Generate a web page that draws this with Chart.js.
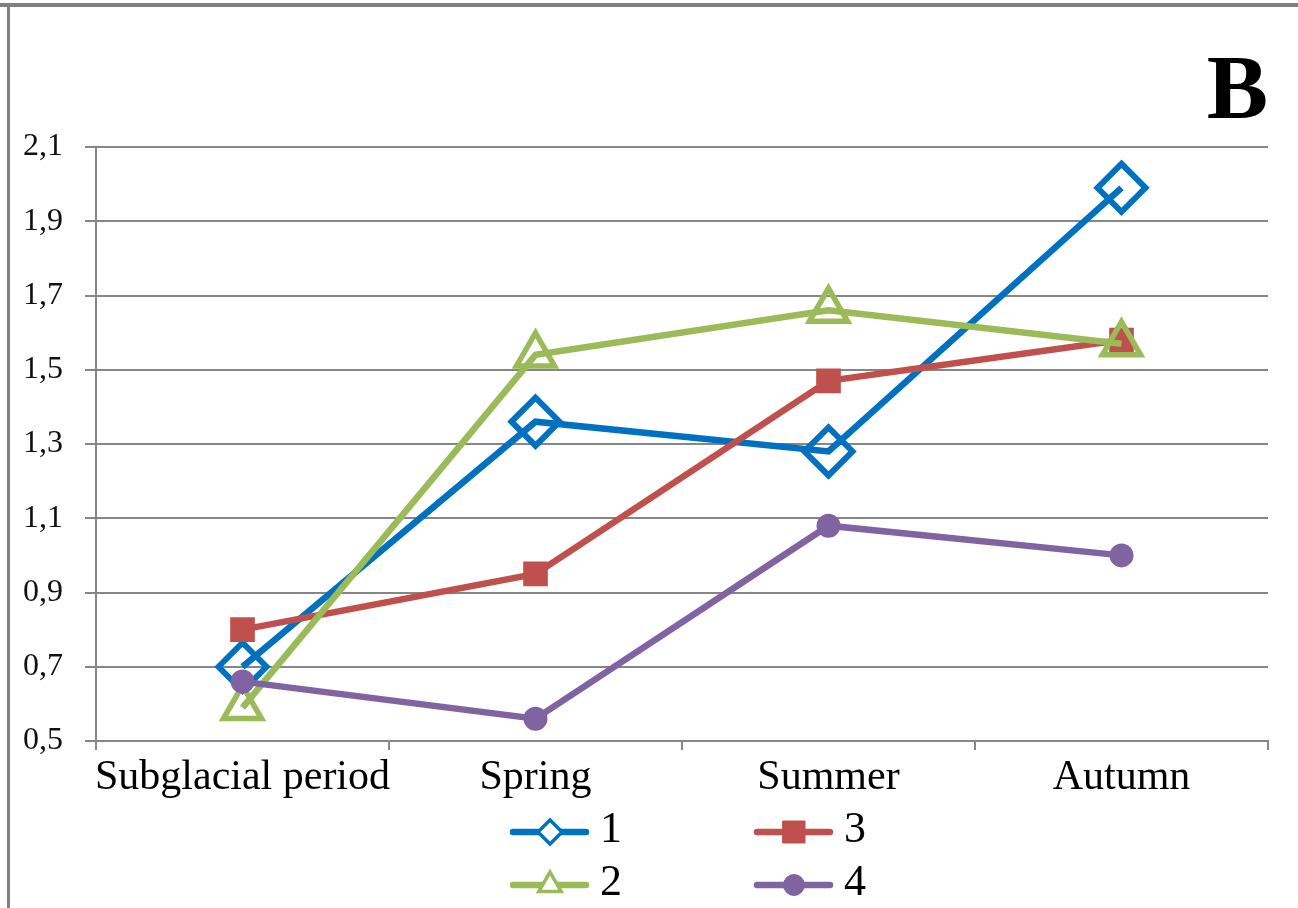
<!DOCTYPE html>
<html><head><meta charset="utf-8">
<script src="https://cdn.jsdelivr.net/npm/chart.js@4.4.0/dist/chart.umd.min.js"></script>
<style>html,body{margin:0;padding:0;background:#fff;overflow:hidden}#wrap{position:relative;width:1298px;height:908px}</style>
</head><body><div id="wrap"><canvas id="c"></canvas></div>
<script>
const categories = ['Subglacial period', 'Spring', 'Summer', 'Autumn'];
const seriesNames = ['1', '2', '3', '4'];
const series1 = [0.70, 1.36, 1.28, 1.99];
const series2 = [0.59, 1.54, 1.66, 1.57];
const series3 = [0.80, 0.95, 1.47, 1.58];
const series4 = [0.66, 0.56, 1.08, 1.00];
const yTickLabels = ['0,5', '0,7', '0,9', '1,1', '1,3', '1,5', '1,7', '1,9', '2,1'];
const panelLabel = 'B';

const SERIF = "'Liberation Serif', 'Times New Roman', serif";
const GRID = '#868686';
const colors = ['#0070C0', '#9BBB59', '#C0504D', '#8064A2'];
const styles = ['rectRot', 'triangle', 'rect', 'circle'];
const radii = [24, 22, 16, 11];
const bws = [6, 5.5, 2, 2];
const fills = ['rgba(255,255,255,0)', 'rgba(255,255,255,0)', colors[2], colors[3]];
const drawOrder = [4, 2, 3, 1];
const allSeries = [series1, series2, series3, series4];

const datasets = allSeries.map((d, i) => ({
  label: seriesNames[i],
  data: d,
  borderColor: colors[i],
  backgroundColor: colors[i],
  borderWidth: 6.5,
  pointStyle: styles[i],
  pointRadius: radii[i],
  pointBorderWidth: bws[i],
  pointBorderColor: colors[i],
  pointBackgroundColor: fills[i],
  tension: 0,
  fill: false,
  order: drawOrder[i]
}));

function drawMarker(ctx, style, x, y, r, color, fill, lw) {
  ctx.save();
  ctx.beginPath();
  if (style === 'rectRot') {
    ctx.moveTo(x, y - r); ctx.lineTo(x + r, y); ctx.lineTo(x, y + r); ctx.lineTo(x - r, y); ctx.closePath();
  } else if (style === 'triangle') {
    ctx.moveTo(x, y - r); ctx.lineTo(x + r * 0.866, y + r / 2); ctx.lineTo(x - r * 0.866, y + r / 2); ctx.closePath();
  } else if (style === 'rect') {
    ctx.rect(x - r, y - r, 2 * r, 2 * r);
  } else {
    ctx.arc(x, y, r, 0, Math.PI * 2);
  }
  ctx.fillStyle = fill; ctx.fill();
  ctx.lineWidth = lw; ctx.strokeStyle = color; ctx.stroke();
  ctx.restore();
}

const framePlugin = {
  id: 'frame',
  beforeDraw(chart) {
    const ctx = chart.ctx;
    ctx.save();
    ctx.fillStyle = '#ffffff';
    ctx.fillRect(0, 0, chart.width, chart.height);
    ctx.fillStyle = '#808080';
    ctx.fillRect(0, 3, chart.width, 4);
    ctx.fillRect(7, 3, 3, chart.height - 3);
    ctx.restore();
  }
};

const legendPlugin = {
  id: 'seriesLegend',
  afterDraw(chart) {
    const ctx = chart.ctx;
    const layout = [
      {i: 0, x: 513, y: 832}, {i: 2, x: 757, y: 832},
      {i: 1, x: 513, y: 885}, {i: 3, x: 757, y: 885}
    ];
    const legR = [12, 13, 11, 10.5];
    const legLW = [3.5, 3.5, 1, 1];
    ctx.save();
    layout.forEach(p => {
      const ds = chart.data.datasets[p.i];
      ctx.beginPath();
      ctx.lineCap = 'round';
      ctx.lineWidth = 6.5;
      ctx.strokeStyle = ds.borderColor;
      ctx.moveTo(p.x, p.y); ctx.lineTo(p.x + 73, p.y); ctx.stroke();
      const fill = (ds.pointStyle === 'rect' || ds.pointStyle === 'circle') ? ds.borderColor : '#ffffff';
      drawMarker(ctx, ds.pointStyle, p.x + 37, p.y, legR[p.i], ds.borderColor, fill, legLW[p.i]);
      ctx.fillStyle = '#000';
      ctx.font = '44px ' + SERIF;
      ctx.textAlign = 'left';
      ctx.textBaseline = 'alphabetic';
      ctx.fillText(ds.label, p.x + 87, p.y + 10);
    });
    ctx.restore();
  }
};

new Chart(document.getElementById('c'), {
  type: 'line',
  data: { labels: categories, datasets },
  plugins: [framePlugin, legendPlugin],
  options: {
    responsive: true,
    maintainAspectRatio: false,
    animation: false,
    events: [],
    layout: { padding: { left: 0, right: 30, top: 0, bottom: 0 } },
    plugins: {
      legend: { display: false },
      tooltip: { enabled: false },
      title: {
        display: true,
        text: panelLabel,
        align: 'end',
        color: '#000',
        font: { family: SERIF, size: 92, weight: 'bold', lineHeight: 1.1 },
        padding: { top: 43.4, bottom: 2.4 }
      }
    },
    scales: {
      x: {
        type: 'category',
        offset: true,
        grid: { display: true, offset: true, drawOnChartArea: false, drawTicks: true, tickLength: 9, color: GRID, lineWidth: 2 },
        border: { display: true, color: GRID, width: 2 },
        ticks: { color: '#000', font: { family: SERIF, size: 42 }, padding: 3, maxRotation: 0, autoSkip: false },
        afterFit(scale) { scale.height = 167; }
      },
      y: {
        min: 0.5,
        max: 2.1,
        ticks: {
          stepSize: 0.2,
          color: '#111',
          font: { family: SERIF, size: 32 },
          padding: 22,
          callback: (v, i) => yTickLabels[i]
        },
        grid: { color: GRID, lineWidth: 2, tickLength: 11, drawTicks: true },
        border: { display: true, color: GRID, width: 2 },
        afterFit(scale) { scale.width = 96; }
      }
    }
  }
});
</script>
</body></html>
